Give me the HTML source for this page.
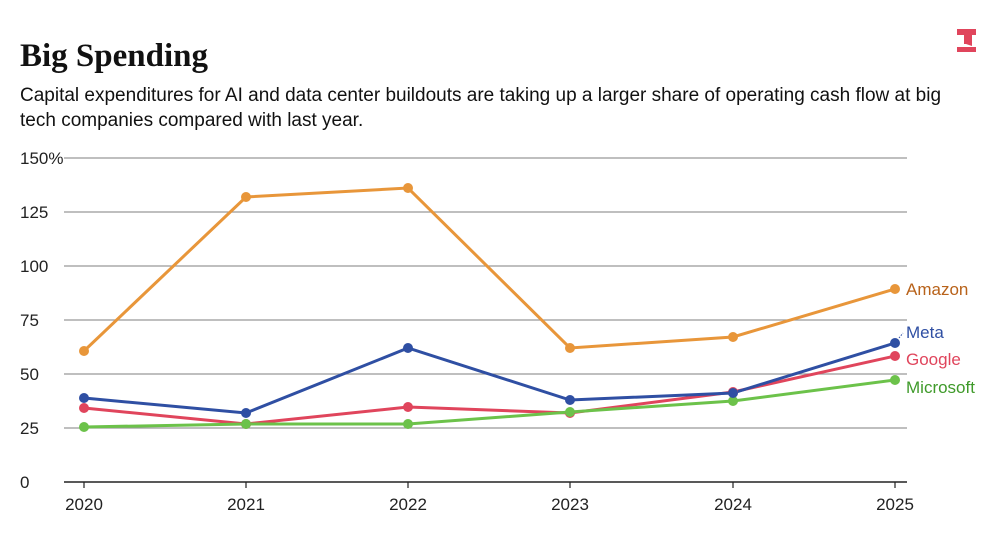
<!DOCTYPE html>
<html><head><meta charset="utf-8"><style>
body{margin:0;background:#fff;width:1000px;height:532px;overflow:hidden;font-family:"Liberation Sans",sans-serif}
</style></head><body>
<svg width="1000" height="532" xmlns="http://www.w3.org/2000/svg">
<text x="20" y="66" font-family="Liberation Serif,serif" font-weight="bold" font-size="33" fill="#111">Big Spending</text>
<text x="20" y="101" font-size="19" fill="#111">Capital expenditures for AI and data center buildouts are taking up a larger share of operating cash flow at big</text>
<text x="20" y="126" font-size="19" fill="#111">tech companies compared with last year.</text>
<g fill="#e0455c"><rect x="957" y="29" width="19" height="6"/><path d="M964 35h8v11l-6-2h-2z"/><rect x="957" y="47" width="19" height="5"/></g>
<g stroke="#999" stroke-width="1.2">
<line x1="64" y1="158" x2="907" y2="158"/><line x1="64" y1="212" x2="907" y2="212"/><line x1="64" y1="266" x2="907" y2="266"/><line x1="64" y1="320" x2="907" y2="320"/><line x1="64" y1="374" x2="907" y2="374"/><line x1="64" y1="428" x2="907" y2="428"/>
</g>
<line x1="64" y1="482" x2="907" y2="482" stroke="#222" stroke-width="1.5"/>
<g stroke="#222" stroke-width="1.2"><line x1="84" y1="482" x2="84" y2="488"/><line x1="246" y1="482" x2="246" y2="488"/><line x1="408" y1="482" x2="408" y2="488"/><line x1="570" y1="482" x2="570" y2="488"/><line x1="733" y1="482" x2="733" y2="488"/><line x1="895" y1="482" x2="895" y2="488"/></g>
<g font-size="17" fill="#222">
<text x="20" y="164">150%</text><text x="20" y="218">125</text><text x="20" y="272">100</text><text x="20" y="326">75</text><text x="20" y="380">50</text><text x="20" y="434">25</text><text x="20" y="488">0</text>
</g>
<g font-size="17" fill="#222" text-anchor="middle">
<text x="84" y="510">2020</text><text x="246" y="510">2021</text><text x="408" y="510">2022</text><text x="570" y="510">2023</text><text x="733" y="510">2024</text><text x="895" y="510">2025</text>
</g>
<g fill="none" stroke-width="3">
<polyline stroke="#e8963a" points="84,351 246,197 408,188 570,348 733,337 895,289"/>
<polyline stroke="#e0455c" points="84,408 246,424 408,407 570,413 733,392 895,356"/>
<polyline stroke="#6cc24a" points="84,427 246,424 408,424 570,412 733,401 895,380"/>
<polyline stroke="#2f4fa3" points="84,398 246,413 408,348 570,400 733,393 895,343"/>
</g>
<g fill="#e8963a"><circle cx="84" cy="351" r="5"/><circle cx="246" cy="197" r="5"/><circle cx="408" cy="188" r="5"/><circle cx="570" cy="348" r="5"/><circle cx="733" cy="337" r="5"/><circle cx="895" cy="289" r="5"/></g>
<g fill="#e0455c"><circle cx="84" cy="408" r="5"/><circle cx="246" cy="424" r="5"/><circle cx="408" cy="407" r="5"/><circle cx="570" cy="413" r="5"/><circle cx="733" cy="392" r="5"/><circle cx="895" cy="356" r="5"/></g>
<g fill="#6cc24a"><circle cx="84" cy="427" r="5"/><circle cx="246" cy="424" r="5"/><circle cx="408" cy="424" r="5"/><circle cx="570" cy="412" r="5"/><circle cx="733" cy="401" r="5"/><circle cx="895" cy="380" r="5"/></g>
<g fill="#2f4fa3"><circle cx="84" cy="398" r="5"/><circle cx="246" cy="413" r="5"/><circle cx="408" cy="348" r="5"/><circle cx="570" cy="400" r="5"/><circle cx="733" cy="393" r="5"/><circle cx="895" cy="343" r="5"/></g>
<line x1="899" y1="338" x2="903" y2="333" stroke="#2f4fa3" stroke-dasharray="1.5 1.5"/>
<g font-size="17">
<text x="906" y="295" fill="#b8621a">Amazon</text>
<text x="906" y="338" fill="#2f4fa3">Meta</text>
<text x="906" y="365" fill="#e0455c">Google</text>
<text x="906" y="393" fill="#3f9a2a">Microsoft</text>
</g>
</svg>
</body></html>
